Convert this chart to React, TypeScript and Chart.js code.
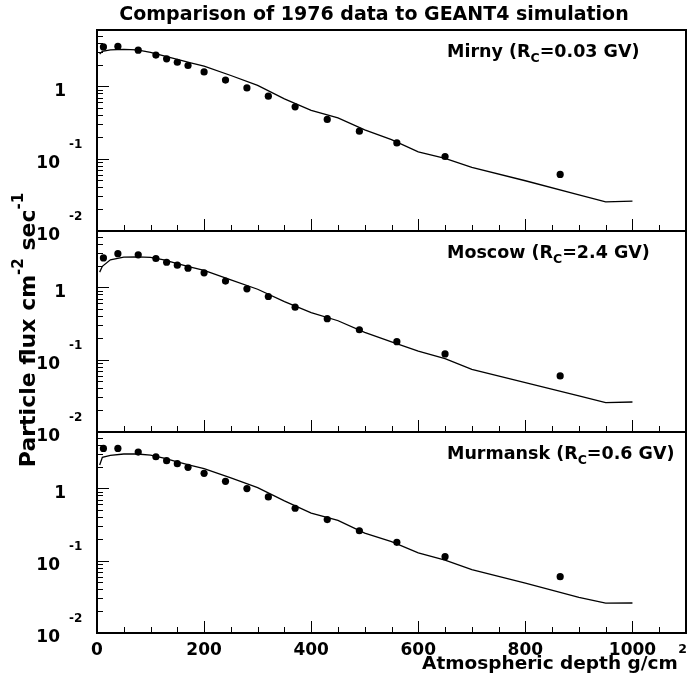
import React, { useEffect, useRef } from "react";
import { Chart, registerables } from "chart.js";

Chart.register(...registerables);

// ---------- data ----------
const titleText = "Comparison of 1976 data to GEANT4 simulation";
const xTitle = "Atmospheric depth g/cm";
const xTitleSup = "2";

const depthData = [12, 39, 77, 110, 130, 150, 170, 200, 240, 280, 320, 370, 430, 490, 560, 650, 865];
const mirnyData = [3.5, 3.56, 3.16, 2.7, 2.4, 2.15, 1.94, 1.58, 1.22, 0.95, 0.73, 0.52, 0.348, 0.24, 0.165, 0.107, 0.0605];
const moscowData = [2.55, 2.92, 2.81, 2.5, 2.22, 2.02, 1.84, 1.585, 1.22, 0.953, 0.746, 0.532, 0.368, 0.259, 0.177, 0.12, 0.0596];
const murmanskData = [3.56, 3.56, 3.17, 2.73, 2.41, 2.19, 1.95, 1.61, 1.25, 0.99, 0.76, 0.53, 0.37, 0.259, 0.179, 0.1135, 0.06];

const simDepth = [5, 10, 25, 50, 75, 100, 125, 150, 175, 200, 250, 300, 350, 400, 450, 500, 550, 600, 650, 700, 800, 900, 950, 1000];
const mirnySim = [2.8, 3.05, 3.18, 3.23, 3.18, 2.95, 2.64, 2.35, 2.11, 1.9, 1.41, 1.03, 0.67, 0.465, 0.365, 0.25, 0.183, 0.124, 0.101, 0.076, 0.0495, 0.0315, 0.0253, 0.0258];
const moscowSim = [1.62, 1.95, 2.4, 2.61, 2.63, 2.6, 2.39, 2.13, 1.9, 1.71, 1.27, 0.94, 0.634, 0.448, 0.345, 0.239, 0.176, 0.131, 0.103, 0.0735, 0.048, 0.0315, 0.0255, 0.026];
const murmanskSim = [2.1, 2.68, 2.85, 2.98, 2.98, 2.88, 2.61, 2.31, 2.08, 1.87, 1.39, 1.02, 0.67, 0.455, 0.36, 0.24, 0.183, 0.128, 0.102, 0.075, 0.049, 0.031, 0.0258, 0.026];

const panelNames = ["Mirny", "Moscow", "Murmansk"];
const panelRc = ["=0.03 GV)", "=2.4 GV)", "=0.6 GV)"];
const panelAxes = ["yTop", "yMid", "yBot"];

const xTickValues = [0, 200, 400, 600, 800, 1000];
const yMajorTicks = [0.01, 0.1, 1];
const yTickBase = ["10", "10", "1"];
const yTickExp = ["-2", "-1", ""];

const X_MIN = 0;
const X_MAX = 1100;
const Y_MIN = 0.01;
const Y_MAX = 6;

const FONT = '"DejaVu Sans", "Liberation Sans", sans-serif';

function pts(xs: number[], ys: number[]) {
  return xs.map((x, i) => ({ x, y: ys[i] }));
}

const framePlugin = {
  id: "rootFrame",
  beforeDraw(chart: any) {
    const ctx = chart.ctx;
    ctx.save();
    ctx.fillStyle = "#ffffff";
    ctx.fillRect(0, 0, chart.width, chart.height);
    ctx.restore();
  },
  afterDraw(chart: any) {
    const ctx: CanvasRenderingContext2D = chart.ctx;
    const xs = chart.scales.x;
    const left = chart.chartArea.left;
    const right = chart.chartArea.right;
    ctx.save();
    ctx.fillStyle = "#000";
    ctx.strokeStyle = "#000";

    panelAxes.forEach((id, pi) => {
      const ys = chart.scales[id];
      const top = ys.top;
      const bottom = ys.bottom;
      // frame
      ctx.lineWidth = 2;
      ctx.strokeRect(left, top, right - left, bottom - top);

      // y ticks (inward)
      ctx.lineWidth = 1;
      ctx.beginPath();
      for (let d = -2; d <= 0; d++) {
        for (let k = 1; k <= 9; k++) {
          const v = k * Math.pow(10, d);
          if (v < Y_MIN - 1e-9 || v > Y_MAX) continue;
          const py = Math.round(ys.getPixelForValue(v)) + 0.5;
          const len = k === 1 ? 12 : 6;
          ctx.moveTo(left, py);
          ctx.lineTo(left + len, py);
        }
      }
      // x ticks (inward, at bottom of panel)
      for (let v = X_MIN; v <= X_MAX; v += 50) {
        const px = Math.round(xs.getPixelForValue(v)) + 0.5;
        const len = v % 200 === 0 ? 12 : 6;
        ctx.moveTo(px, bottom);
        ctx.lineTo(px, bottom - len);
      }
      ctx.stroke();

      // y tick labels
      yMajorTicks.forEach((v, i) => {
        const py = ys.getPixelForValue(v);
        ctx.textBaseline = "alphabetic";
        if (yTickExp[i] === "") {
          ctx.font = `bold 17px ${FONT}`;
          ctx.textAlign = "right";
          ctx.fillText(yTickBase[i], 66, py + 10);
        } else {
          ctx.font = `bold 17px ${FONT}`;
          ctx.textAlign = "right";
          ctx.fillText(yTickBase[i], 60, py + 9);
          ctx.font = `bold 12px ${FONT}`;
          ctx.textAlign = "left";
          ctx.fillText(yTickExp[i], 69, py - 11);
        }
      });

      // panel label
      const lx = 447;
      const ly = top + 27;
      ctx.textAlign = "left";
      ctx.font = `bold 17.5px ${FONT}`;
      const part1 = `${panelNames[pi]} (R`;
      ctx.fillText(part1, lx, ly);
      let cx = lx + ctx.measureText(part1).width;
      ctx.font = `bold 12.5px ${FONT}`;
      ctx.fillText("C", cx, ly + 5);
      cx += ctx.measureText("C").width;
      ctx.font = `bold 17.5px ${FONT}`;
      ctx.fillText(panelRc[pi], cx, ly);
    });

    // x tick labels
    const bottomAxis = chart.scales[panelAxes[2]].bottom;
    ctx.font = `bold 17px ${FONT}`;
    ctx.textAlign = "center";
    ctx.textBaseline = "alphabetic";
    xTickValues.forEach((v) => {
      ctx.fillText(String(v), xs.getPixelForValue(v), bottomAxis + 22);
    });

    // x title (right aligned)
    ctx.font = `bold 12.5px ${FONT}`;
    const supW = ctx.measureText(xTitleSup).width;
    ctx.textAlign = "left";
    ctx.fillText(xTitleSup, 687 - supW, bottomAxis + 20);
    ctx.font = `bold 18.5px ${FONT}`;
    ctx.textAlign = "right";
    ctx.fillText(xTitle, 687 - supW - 0.5, bottomAxis + 36);

    // main title
    ctx.font = `bold 19px ${FONT}`;
    ctx.textAlign = "center";
    ctx.fillText(titleText, 374, 20);

    // y title (rotated)
    ctx.save();
    const midY = 330;
    ctx.translate(35, midY);
    ctx.rotate(-Math.PI / 2);
    const segs: [string, boolean][] = [
      ["Particle flux cm", false],
      ["-2", true],
      [" sec", false],
      ["-1", true],
    ];
    const mainFont = `bold 22px ${FONT}`;
    const supFont = `bold 15px ${FONT}`;
    let total = 0;
    segs.forEach(([t, sup]) => {
      ctx.font = sup ? supFont : mainFont;
      total += ctx.measureText(t).width;
    });
    let sx = -total / 2;
    ctx.textAlign = "left";
    segs.forEach(([t, sup]) => {
      ctx.font = sup ? supFont : mainFont;
      ctx.fillText(t, sx, sup ? -12 : 0);
      sx += ctx.measureText(t).width;
    });
    ctx.restore();

    ctx.restore();
  },
};

export default function App() {
  const ref = useRef<HTMLCanvasElement>(null);
  useEffect(() => {
    if (!ref.current) return;
    const pointDs = (data: number[], axis: string) => ({
      type: "scatter" as const,
      data: pts(depthData, data),
      yAxisID: axis,
      showLine: false,
      pointRadius: 3.6,
      pointBackgroundColor: "#000",
      pointBorderWidth: 0,
      pointBorderColor: "#000",
    });
    const simDs = (data: number[], axis: string) => ({
      type: "line" as const,
      data: pts(simDepth, data),
      yAxisID: axis,
      borderColor: "#000",
      borderWidth: 1.3,
      pointRadius: 0,
      fill: false,
      tension: 0,
    });
    const yScale = (weight: number) => ({
      type: "logarithmic" as const,
      min: Y_MIN,
      max: Y_MAX,
      display: false,
      position: "left" as const,
      stack: "panels",
      stackWeight: 1,
      weight,
    });
    const chart = new Chart(ref.current, {
      type: "line",
      data: {
        datasets: [
          simDs(mirnySim, "yTop"),
          pointDs(mirnyData, "yTop"),
          simDs(moscowSim, "yMid"),
          pointDs(moscowData, "yMid"),
          simDs(murmanskSim, "yBot"),
          pointDs(murmanskData, "yBot"),
        ] as any,
      },
      options: {
        responsive: false,
        animation: false,
        events: [],
        layout: { padding: { left: 97, right: 2, top: 30, bottom: 58 } },
        plugins: {
          legend: { display: false },
          tooltip: { enabled: false },
          title: { display: false },
        },
        scales: {
          x: { type: "linear", min: X_MIN, max: X_MAX, display: false },
          yTop: yScale(3),
          yMid: yScale(2),
          yBot: yScale(1),
        } as any,
      },
      plugins: [framePlugin as any],
    });
    return () => chart.destroy();
  }, []);
  return (
    <div style={{ position: "absolute", left: 0, top: 0, width: 690, height: 691, background: "#fff" }}>
      <canvas ref={ref} width={690} height={691} style={{ display: "block", width: 690, height: 691 }} />
    </div>
  );
}
